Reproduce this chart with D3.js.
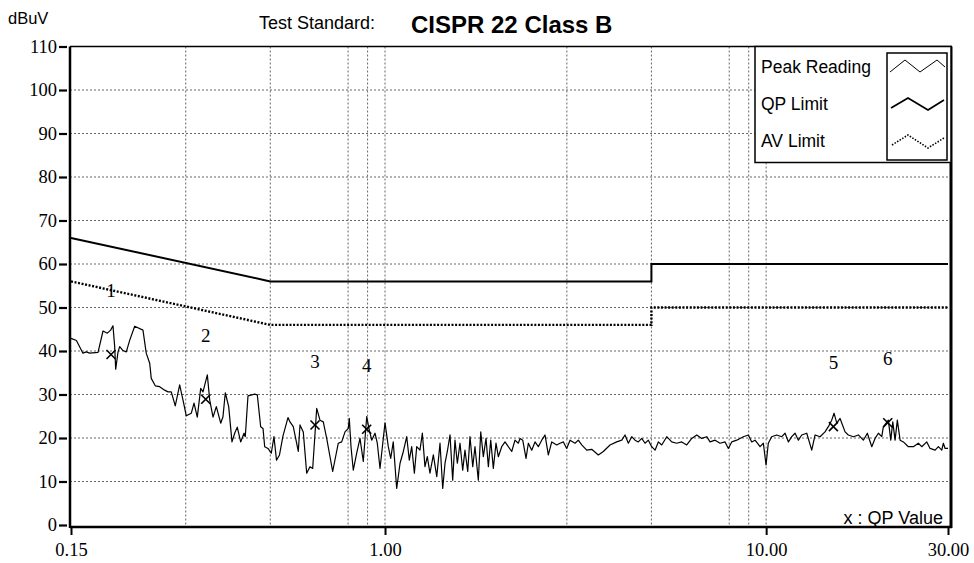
<!DOCTYPE html>
<html><head><meta charset="utf-8">
<script src="https://cdn.jsdelivr.net/npm/d3@7"></script>
<style>body{margin:0;background:#fff}svg{display:block}</style>
</head><body><svg id="c" width="974" height="563"></svg>
<script>
// ---------- data ----------
const peakFreq = [0.150,0.155,0.1612,0.1645,0.1679,0.1766,0.1820,0.1868,0.1906,0.1933,
0.1953,0.1965,0.1993,0.2013,0.2054,0.2095,0.2139,0.2204,0.2317,0.2363,
0.2413,0.2436,0.2496,0.2563,0.2641,0.2695,0.2749,0.2816,0.2892,0.2951,
0.3010,0.3103,0.3154,0.3217,0.3284,0.3330,0.3418,0.3468,0.3538,0.3609,
0.3706,0.3757,0.3810,0.3889,0.3967,0.4032,0.4096,0.4181,0.4266,0.4299,
0.4370,0.4551,0.4623,0.4718,0.4785,0.4834,0.4931,0.5030,0.5113,0.5191,
0.5286,0.5399,0.5564,0.5632,0.5745,0.5922,0.5983,0.6103,0.6230,0.6355,
0.6460,0.6618,0.6751,0.6887,0.7030,0.7289,0.7540,0.7697,0.7853,0.8011,
0.8059,0.8142,0.8256,0.8427,0.8597,0.8770,0.8952,0.9094,0.9227,0.9413,
0.9544,0.9702,1.000,1.020,1.035,1.051,1.073,1.095,1.117,1.140,
1.158,1.175,1.194,1.211,1.235,1.253,1.273,1.291,1.312,1.339,
1.367,1.394,1.417,1.437,1.457,1.481,1.505,1.526,1.548,1.573,
1.599,1.621,1.648,1.671,1.699,1.722,1.757,1.783,1.811,1.841,
1.867,1.894,1.924,1.955,1.983,2.024,2.065,2.106,2.150,2.193,
2.237,2.261,2.298,2.344,2.377,2.426,2.475,2.525,2.577,2.629,
2.682,2.738,2.822,2.879,2.937,2.997,3.058,3.152,3.215,3.282,
3.382,3.486,3.628,3.739,3.894,4.054,4.179,4.263,4.349,4.439,
4.529,4.620,4.716,4.811,4.908,5.009,5.111,5.213,5.321,5.485,
5.653,5.826,6.005,6.189,6.379,6.575,6.776,6.984,7.125,7.344,
7.569,7.801,7.958,8.123,8.372,8.713,8.980,9.166,9.352,9.638,
9.832,9.994,10.13,10.34,10.66,10.99,11.21,11.44,11.67,11.91,
12.15,12.40,12.78,13.17,13.44,13.85,14.27,14.56,14.86,15.07,
15.32,15.63,16.11,16.43,16.94,17.46,17.99,18.43,18.93,19.31,
19.70,20.11,20.30,20.64,20.92,21.23,21.49,21.79,22.09,22.46,
22.91,23.61,24.34,25.08,25.60,26.39,26.92,27.75,28.31,28.89,
29.17,29.48,30.0];
const peakLevel = [42.9,42.4,39.5,39.8,39.5,39.7,44.6,44.1,44.8,45.8,
41.0,35.8,39.8,41.0,40.1,39.8,42.5,45.7,44.8,39.5,
37.2,33.7,32.0,31.8,31.0,30.6,30.6,27.4,32.2,28.7,
25.1,25.7,28.0,24.8,31.4,30.6,34.5,28.7,24.8,27.2,
23.4,24.9,30.4,27.2,19.1,21.1,22.5,19.1,21.1,20.3,
29.7,30.1,29.9,22.6,22.2,18.0,17.6,16.5,20.3,14.9,
16.1,20.5,24.7,23.7,22.6,16.9,23.0,21.4,11.9,13.4,
13.0,26.8,24.1,23.7,19.9,12.3,18.8,19.1,21.4,22.2,
24.5,18.0,12.6,16.5,19.9,14.6,24.9,21.8,19.5,21.1,
18.8,13.0,23.5,18.0,15.3,19.1,8.4,14.2,16.9,20.3,
14.9,18.0,11.9,18.0,17.2,21.1,13.4,15.7,11.9,16.1,
11.1,18.8,8.4,14.2,16.9,20.7,10.3,19.5,14.2,18.8,
12.6,17.2,12.3,20.3,13.4,18.0,10.3,21.4,15.7,19.9,
13.4,19.5,13.0,18.8,15.7,18.0,19.1,18.0,16.9,19.5,
18.8,19.9,19.5,15.3,18.8,17.2,19.1,18.0,19.5,20.7,
16.1,19.1,18.4,18.8,19.1,17.6,19.5,18.8,19.5,18.4,
17.2,17.4,16.1,16.9,18.4,19.1,19.5,20.7,18.8,20.3,
19.5,19.1,19.9,18.8,19.5,18.0,17.2,19.1,18.4,20.3,
19.1,18.8,19.1,18.4,19.9,20.7,19.9,20.3,19.1,19.5,
18.8,19.1,17.6,19.1,19.5,20.3,20.7,19.1,19.5,18.0,
18.8,13.8,18.8,20.3,20.7,20.3,21.1,19.1,20.3,21.1,
19.5,20.7,21.1,17.2,20.7,20.3,21.4,22.6,24.1,25.7,
23.4,24.5,21.4,20.7,20.3,20.7,19.5,21.1,18.0,19.9,
21.1,20.3,22.6,23.4,24.1,19.5,23.7,19.5,24.1,19.5,
19.1,18.0,18.0,18.8,18.0,19.1,17.6,17.2,18.0,17.2,
18.8,17.6,17.6];

const limitFreq = [0.15, 0.5, 5, 5, 30];
const qpLimit   = [66, 56, 56, 60, 60];
const avLimit   = [56, 46, 46, 50, 50];

const qpFreq  = [0.191, 0.3385, 0.655, 0.895, 15.01, 20.85];
const qpLevel = [39.2, 28.9, 23.0, 22.0, 22.6, 23.5];
const qpNames = ["1","2","3","4","5","6"];

const yTicks = [0,10,20,30,40,50,60,70,80,90,100,110];
const yGrid  = [10,20,30,40,50,60,70,80,90,100];
const xTicks = [0.15, 1, 10, 30];
const xTickLabels = ["0.15","1.00","10.00","30.00"];
const xGrid = [0.3, 0.5, 0.8, 0.9, 1, 3, 5, 8, 9, 10];
const legendNames = ["Peak Reading","QP Limit","AV Limit"];

// ---------- layout ----------
const svg = d3.select("#c");
const L = 70, R = 948, T = 46.5, B = 525, frameR = 951;
const x = d3.scaleLog().domain([0.15, 30]).range([71, R]);
const y = d3.scaleLinear().domain([0, 110]).range([B, T]);
const serif = "'Liberation Serif','Times New Roman',serif";
const sans = "'Liberation Sans',Arial,sans-serif";

// grid
const grid = svg.append("g").attr("stroke", "#666").attr("stroke-width", 1).attr("stroke-dasharray", "2,2");
grid.selectAll(".hg").data(yGrid).join("line")
  .attr("x1", L).attr("x2", frameR).attr("y1", d => y(d)).attr("y2", d => y(d));
grid.selectAll(".vg").data(xGrid).join("line")
  .attr("y1", T).attr("y2", B + 2).attr("x1", d => x(d)).attr("x2", d => x(d));

// limits
const lim = (arr) => d3.line().x((d, i) => x(limitFreq[i])).y(d => y(d))(arr);
svg.append("path").attr("d", lim(qpLimit)).attr("fill", "none").attr("stroke", "#000").attr("stroke-width", 2);
svg.append("path").attr("d", lim(avLimit)).attr("fill", "none").attr("stroke", "#000").attr("stroke-width", 2.4).attr("stroke-dasharray", "2,1.6");

// peak trace
const peakLine = d3.line().x((d, i) => x(peakFreq[i])).y(d => y(d));
svg.append("path").attr("d", peakLine(peakLevel)).attr("fill", "none").attr("stroke", "#000").attr("stroke-width", 1.2).attr("stroke-linejoin", "round");

// QP markers
const mk = svg.append("g").attr("stroke", "#000").attr("stroke-width", 1.6);
qpFreq.forEach((f, i) => {
  const cx = x(f), cy = y(qpLevel[i]), s = 4.5;
  mk.append("line").attr("x1", cx - s).attr("y1", cy - s).attr("x2", cx + s).attr("y2", cy + s);
  mk.append("line").attr("x1", cx - s).attr("y1", cy + s).attr("x2", cx + s).attr("y2", cy - s);
  svg.append("text").attr("x", cx).attr("y", y(qpLevel[i] + 14.7) + 6.5)
    .attr("text-anchor", "middle").attr("font-family", serif).attr("font-size", 19).text(qpNames[i]);
});

// axes
const yAxis = d3.axisLeft(y).tickValues(yTicks).tickSize(10).tickPadding(2).tickFormat(d3.format("d"));
const gy = svg.append("g").attr("transform", `translate(${L - 1},0)`).call(yAxis);
gy.select(".domain").remove();
gy.selectAll(".tick line").attr("stroke-width", 2.2).attr("x2", -10).attr("x1", -2);
gy.selectAll(".tick text").attr("font-family", serif).attr("font-size", 18.5).attr("fill", "#000");

const xAxis = d3.axisBottom(x).tickValues(xTicks).tickSize(8).tickPadding(8).tickFormat((d, i) => xTickLabels[i]);
const gx = svg.append("g").attr("transform", `translate(0,${B + 2})`).call(xAxis);
gx.select(".domain").remove();
gx.selectAll(".tick line").attr("stroke-width", 2);
gx.selectAll(".tick text").attr("font-family", serif).attr("font-size", 18.5).attr("fill", "#000");

// frame
const fr = svg.append("g").attr("stroke", "#000");
fr.append("line").attr("x1", L).attr("x2", frameR + 1).attr("y1", T).attr("y2", T).attr("stroke-width", 1.5);
fr.append("line").attr("x1", L).attr("x2", L).attr("y1", T).attr("y2", B + 3).attr("stroke-width", 2.5);
fr.append("line").attr("x1", L).attr("x2", frameR + 1).attr("y1", B + 2).attr("y2", B + 2).attr("stroke-width", 2.5);
fr.append("line").attr("x1", frameR).attr("x2", frameR).attr("y1", T).attr("y2", B + 3).attr("stroke-width", 3);

// titles
svg.append("text").attr("x", 8).attr("y", 24).attr("font-family", sans).attr("font-size", 16.5).text("dBuV");
svg.append("text").attr("x", 259).attr("y", 28.5).attr("font-family", sans).attr("font-size", 18).text("Test Standard:");
svg.append("text").attr("x", 411).attr("y", 33).attr("font-family", sans).attr("font-size", 24).attr("font-weight", "bold").text("CISPR 22 Class B");
svg.append("text").attr("x", 943).attr("y", 524).attr("text-anchor", "end").attr("font-family", sans).attr("font-size", 18).text("x : QP Value");

// legend
const lg = svg.append("g");
lg.append("rect").attr("x", 755).attr("y", T).attr("width", frameR - 755).attr("height", 116)
  .attr("fill", "#fff").attr("stroke", "#000").attr("stroke-width", 1.5);
lg.append("rect").attr("x", 887).attr("y", 53).attr("width", 60).attr("height", 107)
  .attr("fill", "none").attr("stroke", "#000").attr("stroke-width", 1.5);
legendNames.forEach((n, i) => {
  lg.append("text").attr("x", 761).attr("y", 73 + i * 37).attr("font-family", sans).attr("font-size", 17.5).text(n);
});
const sw = d3.line();
lg.append("path").attr("d", sw([[890,72],[905,60],[920,72],[937,60],[945,67]])).attr("fill","none").attr("stroke","#000").attr("stroke-width",1);
lg.append("path").attr("d", sw([[891,108],[908,98],[928,110],[944,100]])).attr("fill","none").attr("stroke","#000").attr("stroke-width",1.8);
lg.append("path").attr("d", sw([[892,145],[908,135],[928,148],[944,138]])).attr("fill","none").attr("stroke","#000").attr("stroke-width",1.6).attr("stroke-dasharray","1.5,1.5");
</script></body></html>
